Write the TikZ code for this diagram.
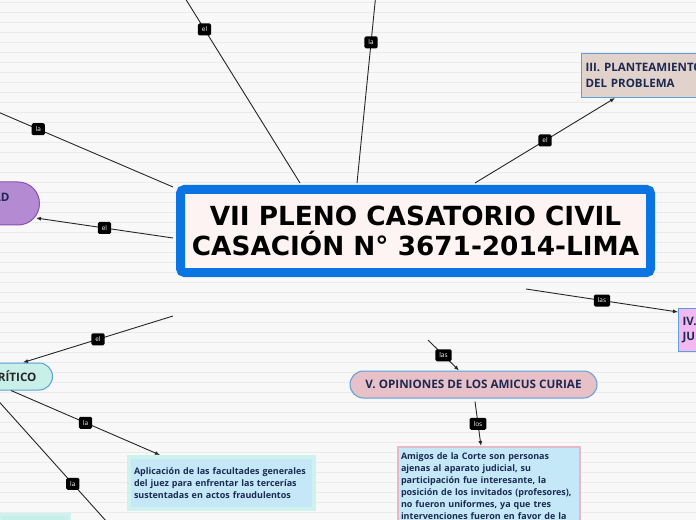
\documentclass[tikz,border=0pt]{standalone}
\usepackage{fontspec}
\setmainfont{Open Sans}
\newfontfamily\ttlfont{DejaVu Sans}
\usetikzlibrary{arrows.meta}
\definecolor{mmblue}{HTML}{0A74E2}
\definecolor{mmnavy}{HTML}{1C2A52}
\definecolor{mmbg}{HTML}{F8F8F8}
\definecolor{mmrule}{HTML}{EBEBEB}
\definecolor{mmpurple}{HTML}{B48AD2}
\definecolor{mmpurpled}{HTML}{8C50B0}
\definecolor{mmteal}{HTML}{C8F0E8}
\definecolor{mmedge}{HTML}{5AA0DC}
\definecolor{mmsand}{HTML}{E2D2CC}
\definecolor{mmpink}{HTML}{F2B8F0}
\definecolor{mmrose}{HTML}{E8C0C8}
\definecolor{mmsky}{HTML}{C4E8F8}
\definecolor{mmmint}{HTML}{CDF3EC}
\definecolor{mmblush}{HTML}{E8B8C8}

\begin{document}
\begin{tikzpicture}[x=1bp,y=-1bp,
 pill/.style={draw=mmedge,line width=1bp,rounded corners=13.5bp,minimum height=27bp,inner sep=0pt,font=\bfseries\fontsize{11.7}{13}\selectfont,text=mmnavy},
 box/.style={draw=mmedge,line width=1bp,inner sep=4bp,anchor=north west,align=left,font=\bfseries\fontsize{11.6}{15.5}\selectfont,text=mmnavy},
 note/.style={anchor=north west,align=left,text=mmnavy,font=\bfseries\fontsize{9}{12}\selectfont,inner xsep=5bp},
 lbl/.style={fill=black,text=white,rounded corners=1.5bp,inner xsep=4bp,inner ysep=0pt,minimum height=12bp,font=\fontsize{6.5}{7}\selectfont},
 a/.style={-{Latex[length=5bp,width=4bp]},line width=0.9bp,draw=black!85},
 l/.style={line width=0.9bp,draw=black!85}
]
\useasboundingbox (0,0) rectangle (696,520);
\fill[mmbg] (0,0) rectangle (696,520);
\foreach \k in {0,...,51}
  \draw[mmrule,line width=0.6bp] (0,2.5+10*\k) -- (696,2.5+10*\k);
\clip (0,0) rectangle (696,520);

% central topic
\node[draw=mmblue,line width=9bp,rounded corners=4bp,minimum width=470bp,minimum height=83bp,
  top color=black!12!red!5,middle color=white!97!red,bottom color=black!10!red!4,
  font=\ttlfont\bfseries\fontsize{26.4}{30}\selectfont,align=center,inner sep=0pt] (vii) at (415.5,231)
  {VII PLENO CASATORIO CIVIL\\CASACIÓN N° 3671-2014-LIMA};

% branches
\node[pill,draw=mmpurpled,fill=mmpurple,rounded corners=21.5bp,minimum height=43bp,
  text width=40bp,align=right,inner xsep=30bp,anchor=east] (pur) at (40,203.5) {AD\\\mbox{}};
\node[pill,fill=mmteal,text width=60bp,align=right,inner xsep=16bp,anchor=east,text=black!85] (crit) at (53,376.5) {RÍTICO};
\node[pill,fill=mmrose,minimum width=247bp] (op) at (473.5,384.5) {V. OPINIONES DE LOS AMICUS CURIAE};
\node[box,fill=mmsand,text width=152bp,minimum height=44bp] (pb) at (581,53) {III. PLANTEAMIENTO\\DEL PROBLEMA};
\node[box,fill=mmpink,text width=52bp,minimum height=43bp] (iv) at (678,308) {IV.\\JU};

% notes
\node[note,fill=mmsky,draw=mmmint,line width=4bp,text width=175bp,minimum height=52bp] (apl) at (127,455)
  {Aplicación de las facultades generales\\del juez para enfrentar las tercerías\\sustentadas en actos fraudulentos};
\node[note,fill=mmsky,draw=mmblush,line width=2bp,text width=176bp,inner xsep=3bp,inner ysep=6bp] (ami) at (397,446)
  {Amigos de la Corte son personas\\ajenas al aparato judicial, su\\participación fue interesante, la\\posición de los invitados (profesores),\\no fueron uniformes, ya que tres\\intervenciones fueron en favor de la};
\node[fill=mmteal!80!mmsky,draw=mmmint,line width=3bp,anchor=north west,minimum width=70bp,minimum height=30bp] (nb) at (-2,513) {};

% free ends
\coordinate (e1) at (185,-2);
\coordinate (e2) at (375.5,-2);
\coordinate (e3) at (-2,112);
\coordinate (e4) at (107,522);

% connectors
\draw[l] ([shift={(124bp,2bp)}]vii.north west) -- node[lbl,pos=0.83]{el} (e1);
\draw[l] ([shift={(181bp,2bp)}]vii.north west) -- node[lbl,pos=0.76]{la} (e2);
\draw[l] ([shift={(-3bp,-2bp)}]vii.north west) -- node[lbl,pos=0.77]{la} (e3);
\draw[a] ([shift={(-3bp,-7bp)}]vii.west) -- node[lbl]{el} ([shift={(-4bp,-14.5bp)}]pur.east);
\draw[a] ([shift={(-3bp,-39bp)}]vii.south west) -- node[lbl]{el} ([xshift=-30bp]crit.north east);
\draw[a] ([shift={(299bp,2bp)}]vii.north west) -- node[lbl]{el} ([xshift=34bp]pb.south west);
\draw[a] ([shift={(350bp,-12bp)}]vii.south west) -- node[lbl]{las} ([yshift=-4bp]iv.north west);
\draw[a] ([shift={(252bp,-63bp)}]vii.south west) -- node[lbl]{las} ([xshift=-14.5bp]op.north);
\draw[a] ([shift={(1.5bp,-3bp)}]op.south) -- node[lbl]{los} ([xshift=84bp]ami.north west);
\draw[a] ([xshift=-42bp]crit.south east) -- node[lbl]{la} ([xshift=33bp]apl.north west);
\draw[l] ([xshift=-64bp]crit.south east) -- node[lbl,pos=0.71]{la} (e4);
\end{tikzpicture}
\end{document}
